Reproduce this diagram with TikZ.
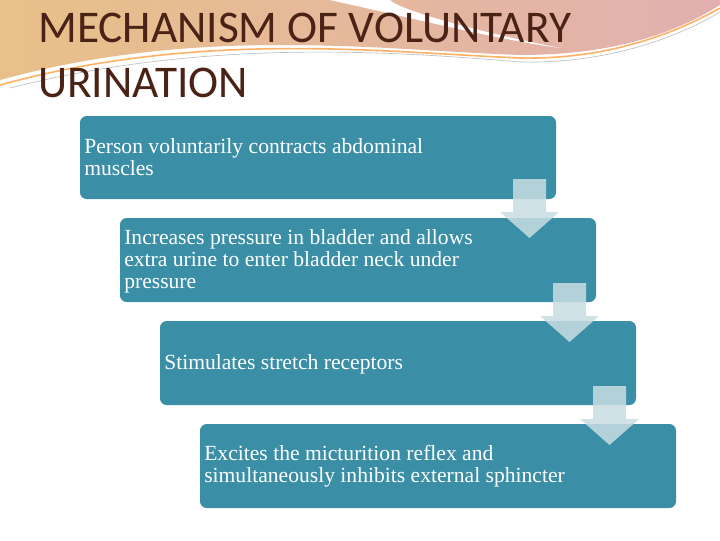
\documentclass[tikz,border=0pt]{standalone}
\usepackage{fontspec}
\setmainfont{Liberation Serif}
\newfontfamily\titlefont{Carlito}
\begin{document}
\begin{tikzpicture}[x=0.75pt,y=-0.75pt,
  stepbox/.style={fill=boxc,rounded corners=5pt},
  steptext/.style={anchor=west,align=left,text=white,font=\fontsize{16.2}{16.5}\selectfont,inner sep=0pt},
  arr/.style={fill=arrc,fill opacity=0.85}]
\definecolor{boxc}{HTML}{3A8FA6}
\definecolor{arrc}{HTML}{C9DDE3}
\definecolor{titlec}{HTML}{4A2216}
\definecolor{swl}{HTML}{E8C088}
\definecolor{swr}{HTML}{E2B0B0}
\useasboundingbox (0,0) rectangle (720,540);
% background swoosh
\shade[left color=swl, right color=swr]
  (0,0) -- (720,0) -- (720,5) .. controls (680,30) and (620,55) .. (520,55)
  .. controls (380,50) and (200,25) .. (0,80) -- cycle;
\fill[white] (330,0) .. controls (420,20) and (500,40) .. (560,48) .. controls (470,30) and (400,10) .. (390,0) -- cycle;
\draw[orange!60, line width=1.2pt] (0,85) .. controls (200,30) and (380,52) .. (520,58) .. controls (620,60) and (690,25) .. (720,8);
\draw[gray!50, line width=0.5pt] (10,88) .. controls (200,40) and (380,50) .. (520,62) .. controls (620,64) and (690,30) .. (720,12);
\node[anchor=north west,inner sep=0pt,text=titlec,font=\titlefont\fontsize{34}{41}\selectfont,align=left] (title) at (38,13) {MECHANISM OF VOLUNTARY\\URINATION};
% boxes
\fill[stepbox] (80,116) rectangle (556,199);
\fill[stepbox] (120,218) rectangle (596,302);
\fill[stepbox] (160,321) rectangle (636,405);
\fill[stepbox] (200,424) rectangle (676,508);
\node[steptext] (t1) at (84,157.5) {Person voluntarily contracts abdominal\\muscles};
\node[steptext] (t2) at (124,261) {Increases pressure in bladder and allows\\extra urine to enter bladder neck under\\pressure};
\node[steptext] (t3) at (164,364) {Stimulates stretch receptors};
\node[steptext] (t4) at (204,466) {Excites the micturition reflex and\\simultaneously inhibits external sphincter};
% arrows
\foreach \x/\y in {513/179,553/283,593/386}{
  \fill[arr] (\x,\y) -- (\x+33,\y) -- (\x+33,\y+33) -- (\x+46,\y+33) -- (\x+16.5,\y+59) -- (\x-13,\y+33) -- (\x,\y+33) -- cycle;
}
\end{tikzpicture}
\end{document}
